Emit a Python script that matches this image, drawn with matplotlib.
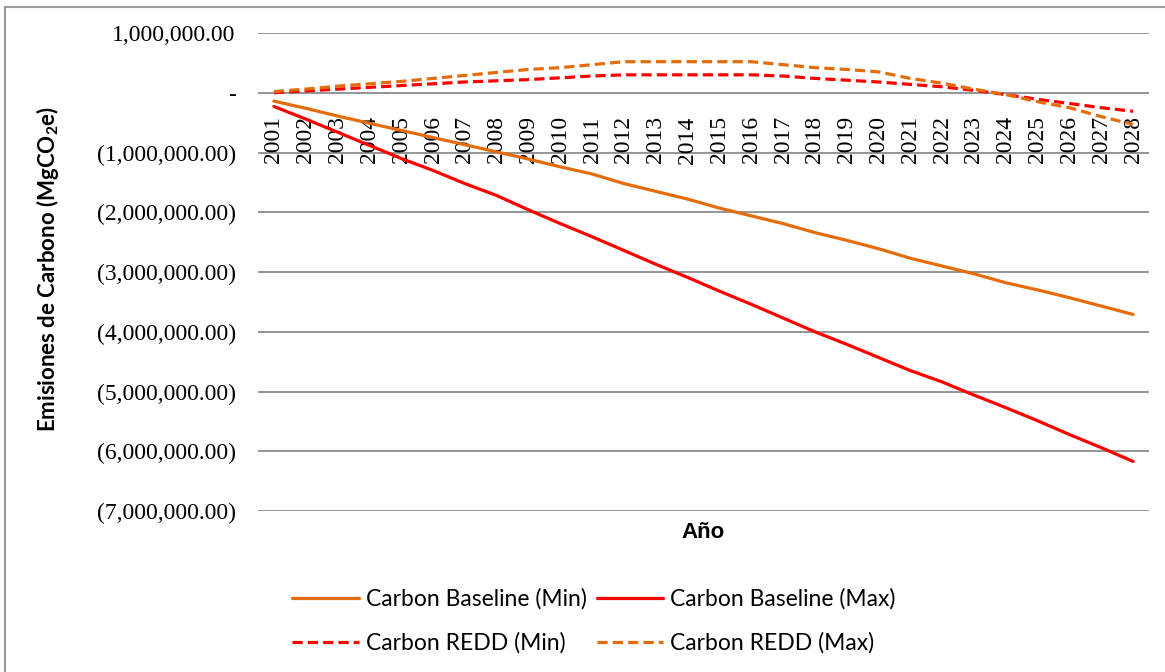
import numpy as np
import matplotlib.pyplot as plt
from matplotlib.lines import Line2D
from matplotlib.ticker import FuncFormatter

years = [str(y) for y in range(2001, 2029)]

# Emissions in MgCO2e
baseline_min = [-140000, -260000, -390000, -510000, -630000, -750000, -870000,
                -990000, -1110000, -1240000, -1360000, -1520000, -1650000, -1780000,
                -1930000, -2060000, -2190000, -2340000, -2470000, -2610000, -2770000,
                -2900000, -3030000, -3180000, -3300000, -3430000, -3570000, -3710000]
baseline_max = [-230000, -440000, -660000, -880000, -1100000, -1300000, -1520000,
                -1720000, -1960000, -2190000, -2410000, -2640000, -2870000, -3090000,
                -3320000, -3540000, -3770000, -4000000, -4210000, -4430000, -4650000,
                -4840000, -5060000, -5270000, -5490000, -5720000, -5940000, -6170000]
redd_min = [0, 30000, 60000, 90000, 120000, 150000, 180000,
            200000, 220000, 250000, 280000, 300000, 300000, 300000,
            300000, 300000, 280000, 240000, 210000, 180000, 140000,
            100000, 40000, -30000, -110000, -180000, -250000, -310000]
redd_max = [20000, 60000, 110000, 150000, 190000, 240000, 290000,
            340000, 390000, 420000, 470000, 520000, 520000, 520000,
            520000, 520000, 470000, 420000, 390000, 350000, 240000,
            160000, 60000, -30000, -150000, -250000, -400000, -530000]

ORANGE = "#E46C0A"
RED = "#FF0000"

fig = plt.figure(figsize=(11.65, 6.72), dpi=100)
ax = fig.add_axes([258 / 1165, 1 - 511 / 672, (1149 - 258) / 1165, (511 - 33) / 672])

x = np.arange(len(years))
lw = 2.3
ax.plot(x, baseline_min, color=ORANGE, lw=lw, solid_capstyle="round", label="Carbon Baseline (Min)")
ax.plot(x, baseline_max, color=RED, lw=lw, solid_capstyle="round", label="Carbon Baseline (Max)")
ax.plot(x, redd_min, color=RED, lw=lw, dashes=(3.2, 1.6), label="Carbon REDD (Min)")
ax.plot(x, redd_max, color=ORANGE, lw=lw, dashes=(3.2, 1.6), label="Carbon REDD (Max)")

ax.set_xlim(-0.5, len(years) - 0.5)
ax.set_ylim(-7000000, 1000000)
ax.set_yticks(np.arange(-7000000, 1000001, 1000000))


def money(v, pos):
    if v == 0:
        return "-"
    if v < 0:
        return f"({abs(v):,.2f})"
    return f"{v:,.2f}"


ax.yaxis.set_major_formatter(FuncFormatter(money))
ax.grid(axis="y", color="#8c8c8c", lw=1.3)
ax.set_axisbelow(True)
for s in ax.spines.values():
    s.set_visible(False)
ax.tick_params(axis="y", length=0, pad=16, labelsize=17)
for lab in ax.get_yticklabels():
    lab.set_family("Liberation Serif")

# category labels sit on the zero line
ax.set_xticks([])
for i, yr in enumerate(years):
    ax.annotate(yr, xy=(i, 0), xytext=(0, -17), textcoords="offset points",
                rotation=90, ha="center", va="top", fontsize=17,
                family="Liberation Serif", zorder=1)

fig.text(703 / 1165, 1 - 532 / 672, "Año", ha="center", va="center",
         fontsize=16, fontweight="bold", family="Liberation Sans")
fig.text(48 / 1165, 1 - 269 / 672, "Emisiones de Carbono (MgCO$_\\mathregular{2}$e)",
         rotation=90, ha="center", va="center", fontsize=16, fontweight="bold",
         family="Lato")

h = {l.get_label(): l for l in ax.get_lines()}
order = ["Carbon Baseline (Min)", "Carbon REDD (Min)", "Carbon Baseline (Max)", "Carbon REDD (Max)"]
fig.legend([h[k] for k in order], order, ncol=2, loc="center",
           bbox_to_anchor=(594 / 1165, 1 - 621 / 672), frameon=False,
           prop={"family": "Lato", "size": 16.5}, handlelength=2.9,
           handletextpad=0.3, columnspacing=0.45, labelspacing=1.0)

# outer chart border
fig.add_artist(Line2D([5 / 1165, 1], [1 - 7 / 672, 1 - 7 / 672], color="#9a9a9a", lw=1.5))
fig.add_artist(Line2D([5 / 1165, 5 / 1165], [0, 1 - 7 / 672], color="#9a9a9a", lw=1.5))

fig.savefig("out.png", dpi=100)
